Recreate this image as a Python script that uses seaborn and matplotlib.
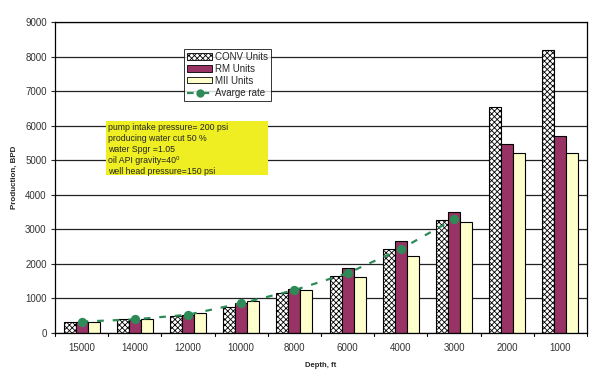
import pandas as pd
import matplotlib.pyplot as plt
import seaborn as sns
from matplotlib.patches import Patch, Rectangle
from matplotlib.lines import Line2D

depths = ["15000", "14000", "12000", "10000", "8000", "6000", "4000", "3000", "2000", "1000"]
conv_units = [310, 395, 490, 765, 1145, 1655, 2420, 3265, 6530, 8180]
rm_units = [330, 385, 520, 860, 1270, 1890, 2650, 3490, 5480, 5690]
mii_units = [310, 400, 570, 925, 1240, 1610, 2225, 3200, 5220, 5220]
avg_depths = ["15000", "14000", "12000", "10000", "8000", "6000", "4000", "3000"]
avg_rate = [330, 395, 530, 860, 1240, 1730, 2430, 3300]
series = ["CONV Units", "RM Units", "MII Units"]

conditions = ("pump intake pressure= 200 psi\n"
              "producing water cut 50 %\n"
              "water Spgr =1.05\n"
              "oil API gravity=40⁰\n"
              "well head pressure=150 psi")

RM_COLOR = "#993366"
MII_COLOR = "#FFFFCC"
AVG_COLOR = "#2E8B57"

def build_frame():
    rows = []
    for name, vals in zip(series, [conv_units, rm_units, mii_units]):
        for d, v in zip(depths, vals):
            rows.append({"Depth": d, "Series": name, "Production": v})
    return pd.DataFrame(rows)

def main():
    sns.set_style("white")
    plt.rcParams["font.family"] = ["Liberation Sans", "DejaVu Sans"]
    plt.rcParams["hatch.linewidth"] = 0.6

    df = build_frame()
    fig = plt.figure(figsize=(6.14, 3.77), dpi=100)
    ax = fig.add_axes([0.0896, 0.1167, 0.8664, 0.8249])

    sns.barplot(data=df, x="Depth", y="Production", hue="Series", order=depths,
                hue_order=series, palette=["white", RM_COLOR, MII_COLOR],
                width=0.68, gap=0, edgecolor="black", linewidth=0.8,
                saturation=1, legend=False, ax=ax)
    # crosshatch on the CONV bars
    for bar in ax.containers[0]:
        bar.set_hatch("xxxxxx")

    n_before = len(ax.lines), len(ax.collections)
    avg_df = pd.DataFrame({"Depth": avg_depths, "Rate": avg_rate})
    sns.pointplot(data=avg_df, x="Depth", y="Rate", order=depths, color=AVG_COLOR,
                  linestyle=(0, (3, 4)), markers="o", markersize=5.5, linewidth=1.6,
                  ax=ax)
    for ln in ax.lines[n_before[0]:]:
        ln.set_zorder(5)
    for c in ax.collections[n_before[1]:]:
        c.set_zorder(6)

    ax.set_ylim(0, 9000)
    ax.set_xlim(-0.5, len(depths) - 0.5)
    ax.set_yticks(range(0, 9001, 1000))
    ax.yaxis.grid(True, color="#222222", linewidth=0.9)
    ax.set_axisbelow(True)
    for s in ax.spines.values():
        s.set_color("black")
        s.set_linewidth(0.9)
        s.set_visible(True)
    ax.tick_params(axis="y", left=True, length=3, width=0.8, labelsize=7,
                   labelcolor="#333333", pad=3)
    ax.tick_params(axis="x", bottom=False, labelsize=7, labelcolor="#333333", pad=4)
    # tick marks between groups
    for i in range(len(depths) + 1):
        ax.plot([i - 0.5, i - 0.5], [0, -90], color="black", linewidth=0.8,
                clip_on=False, zorder=6)

    ax.set_xlabel("Depth, ft", fontsize=5.5, fontweight="bold", labelpad=6)
    ax.set_ylabel("Production, BPD", fontsize=5.8, fontweight="bold", labelpad=5)

    handles = [
        Patch(facecolor="white", edgecolor="black", hatch="xxxxxx", linewidth=0.6),
        Patch(facecolor=RM_COLOR, edgecolor="black", linewidth=0.6),
        Patch(facecolor=MII_COLOR, edgecolor="black", linewidth=0.6),
        Line2D([0], [0], color=AVG_COLOR, linestyle=(0, (3, 4)), linewidth=1.6,
               marker="o", markersize=5),
    ]
    labels = ["CONV Units", "RM Units", "MII Units", "Avarge rate"]
    leg = fig.legend(handles, labels, loc="upper left", bbox_to_anchor=(0.3, 0.87),
                     fontsize=7, frameon=True, fancybox=False, handlelength=2.6,
                     handleheight=0.6, handletextpad=0.3, labelspacing=0.2,
                     borderpad=0.3, borderaxespad=0)
    leg.get_frame().set_edgecolor("black")
    leg.get_frame().set_linewidth(0.7)

    # yellow note box
    fig.patches.append(Rectangle((106 / 614, 1 - 175 / 377), 162 / 614, 54 / 377,
                                 transform=fig.transFigure, facecolor="#EEEE22",
                                 edgecolor="none", zorder=4))
    fig.text(108 / 614, 1 - 123 / 377, conditions, fontsize=6.3, va="top", ha="left",
             linespacing=1.3, zorder=5)

    fig.savefig("out.png", dpi=100)

if __name__ == "__main__":
    main()
